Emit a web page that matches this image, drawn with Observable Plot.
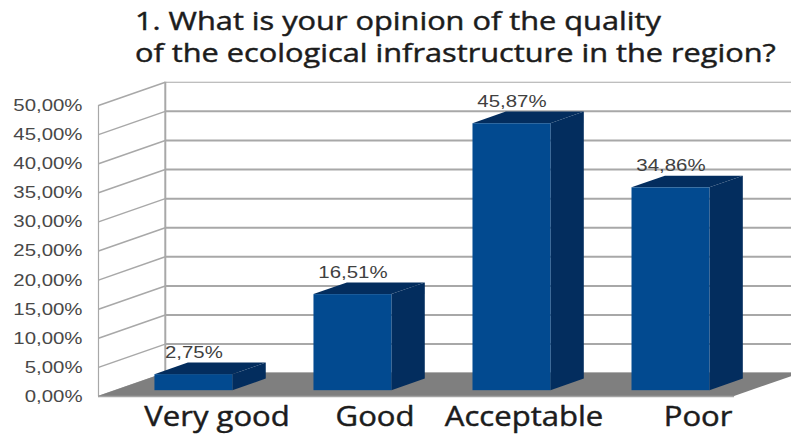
<!DOCTYPE html>
<html>
<head>
<meta charset="utf-8">
<script src="https://cdn.jsdelivr.net/npm/d3@7"></script>
<script src="https://cdn.jsdelivr.net/npm/@observablehq/plot@0.6"></script>
<style>
  html, body { margin: 0; padding: 0; background: #fff; overflow: hidden; }
  #title {
    height: 70px; box-sizing: border-box; padding: 4px 0 0 135px;
    font: 400 25.5px/32px "Open Sans", sans-serif; color: #1c1c1c; white-space: nowrap;
  }
  #title span {
    display: inline-block; transform: scaleX(1.205); transform-origin: left top;
    -webkit-text-stroke: 0.45px #1c1c1c;
  }
  svg { display: block; }
</style>
</head>
<body>
<div id="title"><span>1. What is your opinion of the quality<br>of the ecological infrastructure in the region?</span></div>
<div id="chart"></div>
<script>
// Survey answers, in percent
const categories = ["Very good", "Good", "Acceptable", "Poor"];
const shares = [2.75, 16.51, 45.87, 34.86];
const gridValues = [0, 5, 10, 15, 20, 25, 30, 35, 40, 45, 50];

// Oblique projection: a full step of depth moves a point right and up,
// expressed in category slots and percentage points.
const depthX = 0.42;
const depthY = 4;
const barWidth = 0.49;
const barNear = 0.25;
const barFar = 0.75;
const categoryNudge = [39, 38, 28, 43];

const pct = (v) => v.toFixed(2).replace(".", ",") + "%";
const bars = categories.map((category, i) => ({category, value: shares[i], left: i + 0.25}));

// Faces of each block, as the two vertical or horizontal edges of a parallelogram
const sideFace = bars.flatMap((b) => [barNear, barFar].map((d) => ({
  category: b.category,
  x: b.left + barWidth + d * depthX,
  y1: d * depthY,
  y2: b.value + d * depthY
})));
const topFace = bars.flatMap((b) => [barNear, barFar].map((d) => ({
  category: b.category,
  x1: b.left + d * depthX,
  x2: b.left + barWidth + d * depthX,
  y: b.value + d * depthY
})));
const floor = [
  {x1: 0, x2: 4, y: 0},
  {x1: depthX, x2: 4 + depthX, y: depthY}
];

const gridColor = "#a8a8a8";
const labelFont = "Liberation Sans, Arial, sans-serif";

const plot = Plot.plot({
  width: 791,
  height: 364,
  marginLeft: 98,
  marginRight: 0,
  marginTop: 10,
  marginBottom: 38,
  style: {background: "#fff", fontFamily: labelFont},
  x: {domain: [0, 4.358], axis: null},
  y: {domain: [0, 54.3], axis: null},
  marks: [
    // side wall and back wall
    Plot.link(gridValues, {x1: 0, y1: (d) => d, x2: depthX, y2: (d) => d + depthY, stroke: gridColor, strokeWidth: 1.5}),
    Plot.link(gridValues, {x1: depthX, y1: (d) => d + depthY, x2: 4.358, y2: (d) => d + depthY, stroke: gridColor, strokeWidth: (d) => d === 50 ? 1.2 : 2}),
    Plot.ruleX([0], {y1: 0, y2: 50, stroke: gridColor, strokeWidth: 1.2}),
    Plot.ruleX([depthX], {y1: depthY, y2: 50 + depthY, stroke: gridColor, strokeWidth: 2}),
    // floor
    Plot.area(floor, {x1: "x1", x2: "x2", y1: "y", y2: "y", fill: "#7f7f7f"}),
    Plot.ruleY([0], {x1: 0, x2: 4, stroke: "#a3a3a3", strokeWidth: 1.5}),
    // blocks
    Plot.area(sideFace, {x1: "x", x2: "x", y1: "y1", y2: "y2", z: "category", fill: "#032d5e"}),
    Plot.area(topFace, {x1: "x1", x2: "x2", y1: "y", y2: "y", z: "category", fill: "#032d5e"}),
    Plot.rect(bars, {
      x1: (d) => d.left + barNear * depthX,
      x2: (d) => d.left + barWidth + barNear * depthX,
      y1: barNear * depthY,
      y2: (d) => d.value + barNear * depthY,
      fill: "#024a90"
    }),
    // value labels
    Plot.text(bars, {
      x: (d) => d.left + barWidth / 2 + barNear * depthX,
      y: (d) => d.value + barFar * depthY,
      text: (d) => pct(d.value),
      dy: -5,
      lineAnchor: "bottom",
      fontSize: 17,
      fill: "#404040"
    }),
    // percentage axis
    Plot.axisY(gridValues, {
      tickSize: 0,
      tickPadding: 16,
      tickFormat: pct,
      fontSize: 17,
      fill: "#484848",
      label: null
    }),
    // category names, each placed under its block
    ...categories.map((category, i) => Plot.text([category], {
      x: i + 0.5,
      y: 0,
      dx: categoryNudge[i],
      dy: 21,
      text: (d) => d,
      fontSize: 27,
      fontFamily: "Open Sans, sans-serif",
      stroke: "#1c1c1c",
      strokeWidth: 0.45,
      fill: "#1c1c1c"
    }))
  ]
});

document.getElementById("chart").append(plot);

// Chart text is set wide: stretch the glyphs horizontally once measured,
// the large category names a little less than the small numbers
plot.querySelectorAll("text").forEach((t) => {
  const large = parseFloat(getComputedStyle(t).fontSize) > 20;
  t.setAttribute("textLength", (t.getComputedTextLength() * (large ? 1.15 : 1.2)).toFixed(1));
  t.setAttribute("lengthAdjust", "spacingAndGlyphs");
});
</script>
</body>
</html>
